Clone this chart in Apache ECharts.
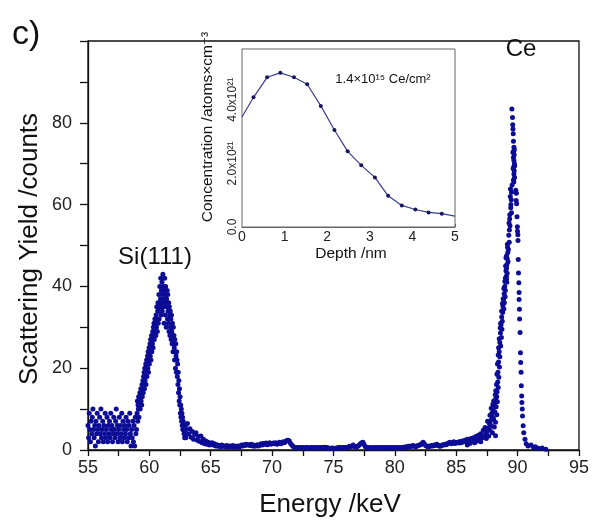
<!DOCTYPE html>
<html>
<head>
<meta charset="utf-8">
<script src="https://cdn.jsdelivr.net/npm/echarts@6/dist/echarts.min.js"></script>
<style>
html,body{margin:0;padding:0;background:#fff;}
#chart{width:592px;height:522px;}
</style>
</head>
<body>
<div id="chart"></div>
<script>
// ---------- DATA ----------
// Low-energy background region (uniform channels)
const bgAStart = 55.0, bgAStep = 0.05;
const bgACounts = [6,3,9,5,2,7,4,8,10,5, 3,6,1,7,4,9,5,2,6,8, 4,10,3,5,7,2,6,4,9,3, 5,8,2,6,4,7,3,9,5,6,
  2,4,8,5,3,7,10,4,6,2, 5,8,3,6,4,9,2,7,5,3, 6,4,8,5,2,7,3,6,9,4, 1,5,3,7,2,6,1,8,4,5];
// Si(111) peak region
const siStart = 59.0, siStep = 0.025;
const siCounts = [9,12,7,11,10,13,8,12,11,14, 10,13,15,12,14,11,16,13,15,17, 14,18,16,19,15,20,17,18,21,16,
  19,22,18,21,23,20,24,19,22,25, 21,24,26,23,27,22,25,28,24,27, 26,29,25,30,28,31,27,30,32,29,
  31,28,33,30,35,32,29,34,36,31, 34,38,32,36,40,35,37,42,33,39, 36,41,34,38,43,35,40,37,31,39,
  42,36,33,40,38,30,37,35,39,32, 38,34,31,36,29,35,33,28,34,30, 32,27,33,29,26,31,28,24,30,26,
  28,25,22,27,24,20,26,23,19,24, 22,18,21,16,19,14,17,12,15,11, 13,9,11,8,10,7,9,6,8,5,
  7,5,6,4,6,3,5,4,6,3, 5];
// Middle background region
const bgBStart = 63.1, bgBStep = 0.1;
const bgBCounts = [6.5,4.0,5.2,3.1,4.5,2.6,3.8,4.2,2.4,3.3, 2.1,3.4,1.8,2.6,1.5,2.2,1.4,1.9,1.2,1.6,
  1.8,1.2,1.5,1.0,1.3,0.9,1.1,0.8,1.2,0.9, 1.0,0.8,1.1,0.7,1.0,0.9,0.8,1.1,0.7,0.9,
  0.8,1.0,0.7,0.9,1.2,1.0,1.3,1.1,1.4,1.2, 1.3,1.1,1.4,1.0,1.2,0.9,1.1,1.3,1.0,1.2,
  1.5,1.2,1.6,1.4,1.7,1.3,1.5,1.8,1.4,1.6, 1.7,1.5,1.8,1.4,1.6,1.9,1.5,1.7,2.0,1.8,
  2.1,2.3,2.4,2.2,1.6,1.2,0.9,0.7,0.6,0.5, 0.6,0.5,0.6,0.5,0.6,0.5,0.6,0.5,0.6,0.5,
  0.5,0.6,0.5,0.6,0.5,0.6,0.5,0.6,0.5,0.6, 0.6,0.5,0.7,0.5,0.6,0.4,0.3,0.4,0.5,0.4,
  0.3,0.4,0.5,0.6,0.5,0.6,0.5,0.6,0.5,0.6, 0.6,0.7,0.9,0.8,1.0,1.2,0.9,0.7,0.8,1.0,
  1.2,1.5,1.8,1.9,1.3,0.8,0.6,0.5,0.6,0.5, 0.5,0.6,0.5,0.6,0.5,0.6,0.5,0.6,0.5,0.6,
  0.5,0.6,0.5,0.6,0.5,0.6,0.5,0.6,0.5,0.6, 0.5,0.6,0.5,0.6,0.5,0.6,0.7,0.6,0.8,0.7,
  0.9,0.8,1.0,0.9,1.1,0.9,0.8,1.0,1.1,1.2, 1.3,1.6,1.9,1.5,1.1,0.9,0.8,1.0,0.9,1.1,
  1.0,1.2,1.1,1.4,1.2,1.0,0.9,1.1,1.3,1.2, 1.4,1.3,1.6,1.8,1.9,1.5,1.7,2.0,1.6,1.8,
  1.9,1.7,2.1,1.8,2.2,2.0,2.4,2.1,2.6,2.3, 2.5,2.8,2.4,3.0,2.7,3.3,2.9,3.6,3.2,4.0];
// Ce peak (energy, counts)
const ceEnergy = [89.53,89.58,89.62,89.64,89.70,89.68,89.72,89.66,89.70,89.74,89.68,89.72,89.70,89.75,89.66,
  89.42,89.50,89.85,89.90,89.40,89.48,89.88,89.45,89.92,89.35,89.30,89.38,89.33,89.98,89.99,90.02,90.03,
  89.17,89.25,89.20,89.10,89.15,89.22,89.12,89.10,89.05,89.15,89.08,89.10,89.12,
  90.05,90.07,90.10,90.12,90.12,90.15,90.16,90.20,90.23,90.25,90.28,90.30,90.33,90.35,90.38,90.40,90.45,90.50,
  90.60,90.70,90.85,91.10,91.30,91.45,91.70,92.00,92.30,
  88.95,89.00,88.90,88.98,88.85,88.92,88.80,88.88,88.78,88.70,88.75,88.65,88.72,88.60,88.68,88.55,88.62,
  88.50,88.55,88.45,88.52,88.40,88.47,88.38,88.42,88.33,88.30,88.20,88.35,88.10,88.25,88.00,88.15,87.90,
  88.30,87.95,88.05,87.80,88.20,87.70,87.85,88.10,87.60,87.75,87.50,87.95,87.40,88.20,87.65,87.30,87.10,
  87.45,86.90,86.70,87.00,86.50,86.30,86.10,85.90,
  89.60,89.66,89.73,89.62,89.76,89.64,89.69,89.55,89.44,89.50,89.36,89.28,89.95,89.32,89.18,
  89.05,89.02,89.00,88.96,88.88,88.82,88.76,88.70,88.62,88.58,88.50,88.45,88.42,88.36,88.32,
  88.28,88.22,88.18,88.05,87.98,87.85,87.75,87.55,87.35,87.20,87.00,86.80,86.60];
const ceCounts = [83.4,81.3,78.5,77.3,74.0,73.0,72.2,71.5,70.8,70.0,69.2,68.3,67.5,66.6,66.0,
  63.8,63.0,63.5,62.8,62.0,61.2,61.0,60.0,60.2,56.5,55.5,54.8,53.8,54.6,53.5,52.6,51.2,
  50.3,49.0,48.3,47.5,46.8,46.0,45.3,44.5,43.8,43.2,42.5,41.8,41.0,
  46.6,43.3,40.9,38.5,36.8,34.4,32.0,28.7,23.8,21.4,19.0,15.7,13.2,11.6,10.0,8.3,5.9,4.2,
  2.6,1.5,1.0,1.2,0.6,0.8,0.4,0.5,0.2,
  40.0,39.0,38.2,37.5,36.8,36.0,35.2,34.5,33.6,32.5,31.5,30.6,29.5,28.6,27.5,26.3,25.4,
  24.0,22.8,21.5,20.3,19.0,17.8,16.6,15.3,14.2,13.0,12.4,11.8,11.0,10.6,10.0,9.3,9.0,
  8.6,8.0,7.6,7.2,6.8,6.5,6.0,5.6,5.4,4.8,4.5,4.2,4.0,3.5,3.4,3.2,3.0,
  2.8,2.6,2.2,2.0,1.8,2.0,1.6,1.2,
  79.5,75.5,73.5,72.8,69.5,68.8,65.5,64.8,59.2,58.0,57.5,52.5,57.0,50.8,49.6,
  47.0,45.0,42.0,41.2,39.5,37.0,35.8,34.0,31.0,29.8,27.2,25.0,23.2,21.0,18.5,
  16.0,14.5,13.5,12.0,11.2,10.2,8.5,7.0,5.5,4.8,3.8,3.3,2.9];
// Inset depth profile
const depthNm = [0, 0.27, 0.59, 0.90, 1.22, 1.53, 1.85, 2.17, 2.48, 2.80, 3.12, 3.43, 3.75, 4.07, 4.38, 4.69, 5.0];
const concE21 = [3.46, 4.08, 4.71, 4.85, 4.71, 4.49, 3.81, 3.05, 2.38, 1.94, 1.56, 0.98, 0.68, 0.55, 0.46, 0.42, 0.34];
const energyTicks = [55, 60, 65, 70, 75, 80, 85, 90, 95];
const yieldTicks = [0, 20, 40, 60, 80];

// ---------- BUILD ----------
const pts = [];
bgACounts.forEach((c, i) => pts.push([+(bgAStart + i * bgAStep).toFixed(3), c]));
siCounts.forEach((c, i) => pts.push([+(siStart + i * siStep).toFixed(3), c]));
bgBCounts.forEach((c, i) => pts.push([+(bgBStart + i * bgBStep).toFixed(3), c]));
ceEnergy.forEach((e, i) => pts.push([e, ceCounts[i]]));

const inset = depthNm.map((d, i) => {
  const item = { value: [d, concE21[i]] };
  if (i === 0 || i === depthNm.length - 1) item.symbolSize = 0;
  return item;
});

const FONT = "'Liberation Sans', Arial, 'DejaVu Sans', sans-serif";
const chart = echarts.init(document.getElementById('chart'), null, { renderer: 'canvas' });
const blue = '#0c0c96';

chart.setOption({
  backgroundColor: '#fff',
  animation: false,
  grid: [
    { left: 88, top: 41, right: 12, bottom: 72, show: true, borderColor: '#111', borderWidth: 1.3, backgroundColor: 'transparent' },
    { left: 242, top: 49, right: 137, bottom: 295, show: true, borderColor: '#666', borderWidth: 1, backgroundColor: '#fff', z: 5 }
  ],
  xAxis: [
    {
      gridIndex: 0, type: 'value', min: 55, max: 95, interval: 2.5,
      axisLine: { show: true, onZero: false, lineStyle: { color: '#111', width: 1.3 } },
      axisTick: { show: true, inside: false, length: 6, lineStyle: { color: '#111', width: 1.3 } },
      axisLabel: { fontFamily: FONT, fontSize: 18, color: '#222', margin: 9,
        formatter: v => energyTicks.indexOf(v) >= 0 ? String(v) : '' },
      splitLine: { show: false }
    },
    {
      gridIndex: 1, type: 'value', min: 0, max: 5, interval: 1,
      axisLine: { show: true, onZero: false, lineStyle: { color: '#666', width: 1 } },
      axisTick: { show: true, inside: true, length: 3, lineStyle: { color: '#666' } },
      minorTick: { show: true, splitNumber: 2, length: 2, lineStyle: { color: '#666' } },
      axisLabel: { fontFamily: FONT, fontSize: 14, color: '#222', margin: 3 },
      splitLine: { show: false }
    }
  ],
  yAxis: [
    {
      gridIndex: 0, type: 'value', min: 0, max: 100, interval: 10,
      axisLine: { show: true, onZero: false, lineStyle: { color: '#111', width: 1.3 } },
      axisTick: { show: true, inside: false, length: 8, lineStyle: { color: '#111', width: 1.3 } },
      axisLabel: { fontFamily: FONT, fontSize: 18, color: '#222', margin: 16,
        formatter: v => yieldTicks.indexOf(v) >= 0 ? String(v) : '' },
      splitLine: { show: false }
    },
    {
      gridIndex: 1, type: 'value', min: 0, max: 5.6, interval: 1,
      axisLine: { show: true, onZero: false, lineStyle: { color: '#666', width: 1 } },
      axisTick: { show: true, inside: true, length: 3, lineStyle: { color: '#666' } },
      minorTick: { show: true, splitNumber: 2, length: 2, lineStyle: { color: '#666' } },
      axisLabel: { fontFamily: FONT, fontSize: 12, color: '#222', margin: 3, rotate: 90,
        formatter: v => v === 0 ? '0.0' : (v === 2 ? '2.0x10²¹' : (v === 4 ? '4.0x10²¹' : '')) },
      splitLine: { show: false }
    }
  ],
  series: [
    {
      type: 'scatter', xAxisIndex: 0, yAxisIndex: 0, data: pts,
      symbol: 'circle', symbolSize: 5, itemStyle: { color: blue, opacity: 1 }, z: 2
    },
    {
      type: 'line', xAxisIndex: 1, yAxisIndex: 1, data: inset, z: 6,
      symbol: 'circle', symbolSize: 4, showSymbol: true,
      lineStyle: { color: '#3c3c92', width: 1.2 },
      itemStyle: { color: '#15155a' }
    }
  ],
  graphic: [
    { type: 'text', left: 12, top: 18, style: { text: 'c)', font: '34px ' + FONT, fill: '#111' } },
    { type: 'text', x: 155, y: 257, style: { text: 'Si(111)', font: '24px ' + FONT, fill: '#111', textAlign: 'center', textVerticalAlign: 'middle' } },
    { type: 'text', x: 521, y: 49, style: { text: 'Ce', font: '24px ' + FONT, fill: '#111', textAlign: 'center', textVerticalAlign: 'middle' } },
    { type: 'text', x: 30, y: 249, rotation: Math.PI / 2, style: { text: 'Scattering Yield /counts', font: '26px ' + FONT, fill: '#111', textAlign: 'center', textVerticalAlign: 'middle' } },
    { type: 'text', x: 330, y: 505, style: { text: 'Energy /keV', font: '26px ' + FONT, fill: '#111', textAlign: 'center', textVerticalAlign: 'middle' } },
    { type: 'text', x: 208, y: 127, rotation: Math.PI / 2, z: 10, style: { text: 'Concentration /atoms×cm⁻³', font: '15.5px ' + FONT, fill: '#111', textAlign: 'center', textVerticalAlign: 'middle' } },
    { type: 'text', x: 351, y: 254, z: 10, style: { text: 'Depth /nm', font: '15.5px ' + FONT, fill: '#111', textAlign: 'center', textVerticalAlign: 'middle' } },
    { type: 'text', x: 383, y: 79, z: 10, style: { text: '1.4×10¹⁵ Ce/cm²', font: '13px ' + FONT, fill: '#111', textAlign: 'center', textVerticalAlign: 'middle' } }
  ]
});
</script>
</body>
</html>
